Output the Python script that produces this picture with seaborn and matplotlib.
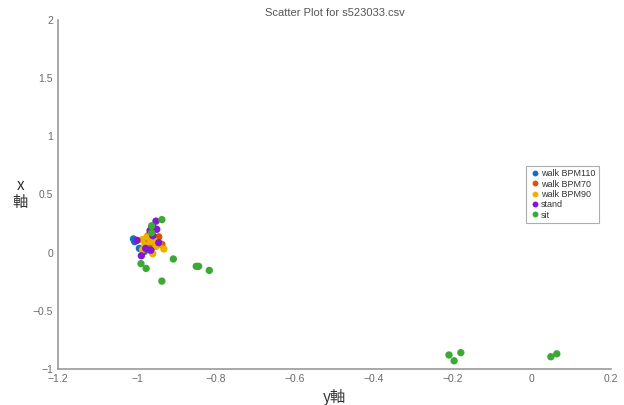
import pandas as pd
import matplotlib.pyplot as plt
import seaborn as sns

# points (horizontal = "y軸", vertical = "x軸")
labels = ["walk BPM110", "walk BPM70", "walk BPM90", "stand", "sit"]
colors = ["#1171BE", "#DD5400", "#EDB000", "#8516D1", "#3BA935"]

bpm110_h = [-1.009, -1.006, -0.994, -0.982, -0.950, -0.970, -0.960]
bpm110_v = [0.117, 0.094, 0.036, 0.008, 0.065, 0.025, 0.050]

bpm70_h = [-0.972, -0.978, -0.950, -0.937, -0.956, -0.945, -0.965]
bpm70_v = [0.146, 0.088, 0.117, 0.070, 0.077, 0.135, 0.060]

bpm90_h = [-0.987, -0.966, -0.952, -0.932, -0.986, -0.960, -0.980, -0.944, -0.975, -0.958]
bpm90_v = [0.111, 0.094, 0.053, 0.031, 0.025, -0.010, 0.065, 0.077, 0.135, 0.110]

stand_h = [-0.952, -0.960, -0.950, -0.967, -0.960, -1.000, -0.978, -0.965, -0.989, -0.945]
stand_v = [0.270, 0.225, 0.200, 0.190, 0.145, 0.105, 0.036, 0.020, -0.027, 0.085]

sit_h = [-0.937, -0.963, -0.963, -0.990, -0.977, -0.908, -0.850, -0.844, -0.817, -0.937,
         -0.210, -0.197, -0.180, 0.048, 0.063]
sit_v = [0.283, 0.230, 0.170, -0.095, -0.136, -0.055, -0.118, -0.118, -0.153, -0.245,
         -0.880, -0.930, -0.860, -0.895, -0.870]

xs = [bpm110_h, bpm70_h, bpm90_h, stand_h, sit_h]
ys = [bpm110_v, bpm70_v, bpm90_v, stand_v, sit_v]

frames = []
for lab, h, v in zip(labels, xs, ys):
    frames.append(pd.DataFrame({"h": h, "v": v, "label": lab}))
df = pd.concat(frames, ignore_index=True)

sns.set_style("white")
plt.rcParams["font.family"] = ["Liberation Sans", "Noto Sans CJK JP", "DejaVu Sans"]

fig = plt.figure(figsize=(6.24, 4.05), dpi=100)
ax = fig.add_axes([0.093, 0.089, 0.886, 0.862])

sns.scatterplot(data=df, x="h", y="v", hue="label", hue_order=labels,
                palette=colors, s=28, linewidth=0, ax=ax)

grey = "#9a9a9a"
ax.set_xlim(-1.2, 0.2)
ax.set_ylim(-1, 2)
ax.set_xticks([-1.2, -1, -0.8, -0.6, -0.4, -0.2, 0, 0.2])
ax.set_xticklabels(["\u22121.2", "\u22121", "\u22120.8", "\u22120.6", "\u22120.4", "\u22120.2", "0", "0.2"])
ax.set_yticks([-1, -0.5, 0, 0.5, 1, 1.5, 2])
ax.set_yticklabels(["\u22121", "\u22120.5", "0", "0.5", "1", "1.5", "2"])
ax.tick_params(direction="in", length=4, width=0.8, colors=grey, labelcolor="#6a6a6a", labelsize=7.5)
for side in ["top", "right"]:
    ax.spines[side].set_visible(False)
for side in ["left", "bottom"]:
    ax.spines[side].set_color(grey)
    ax.spines[side].set_linewidth(1.2)

ax.set_xlabel("y軸", fontsize=11, color="#333333", family=["Noto Sans CJK JP", "DejaVu Sans"], labelpad=4)
ax.set_ylabel("x\n軸", fontsize=11, color="#333333", rotation=0, family=["Noto Sans CJK JP", "DejaVu Sans"],
              labelpad=9, va="center", linespacing=1.0)
ax.set_title("Scatter Plot for s523033.csv", fontsize=8, color="#555555", pad=3)

leg = ax.legend(loc="center left", bbox_to_anchor=(0.846, 0.5), fontsize=6.5, frameon=True,
                fancybox=False, edgecolor="#999999", handletextpad=0.1, borderpad=0.4,
                labelspacing=0.15, markerscale=0.8, handlelength=1.2, borderaxespad=0)
leg.get_frame().set_linewidth(0.8)
for t in leg.get_texts():
    t.set_color("#333333")

fig.savefig("out.png", dpi=100)
